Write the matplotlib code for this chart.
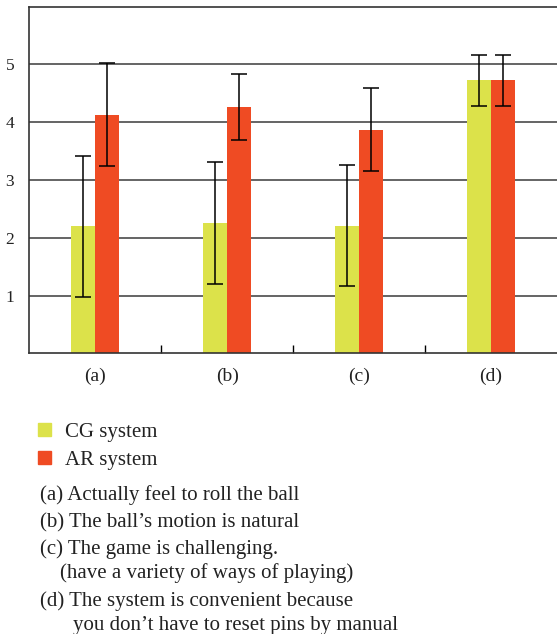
import matplotlib.pyplot as plt
import numpy as np

categories = ["(a)", "(b)", "(c)", "(d)"]
cg_mean = [2.20, 2.26, 2.21, 4.73]
cg_err = [1.22, 1.06, 1.05, 0.44]
ar_mean = [4.13, 4.26, 3.87, 4.73]
ar_err = [0.89, 0.57, 0.72, 0.44]
series_names = ["CG system", "AR system"]
notes = [
    "(a) Actually feel to roll the ball",
    "(b) The ball\u2019s motion is natural",
    "(c) The game is challenging.",
    "(have a variety of ways of playing)",
    "(d) The system is convenient because",
    "you don\u2019t have to reset pins by manual",
]

CG_COLOR = "#dce24a"
AR_COLOR = "#ef4b23"

plt.rcParams["font.family"] = ["Liberation Serif", "DejaVu Serif"]

fig = plt.figure(figsize=(5.57, 6.34), dpi=100)
ax = fig.add_axes([0.0527, 0.4427, 0.9473, 0.5467])

x = np.arange(len(categories))
w = 0.182
ax.bar(x - w / 2, cg_mean, w, color=CG_COLOR, zorder=2)
ax.bar(x + w / 2, ar_mean, w, color=AR_COLOR, zorder=2)
ax.errorbar(x - w / 2, cg_mean, yerr=cg_err, fmt="none", ecolor="black",
            elinewidth=1.1, capsize=6, capthick=1.1, zorder=3)
ax.errorbar(x + w / 2, ar_mean, yerr=ar_err, fmt="none", ecolor="black",
            elinewidth=1.1, capsize=6, capthick=1.1, zorder=3)

ax.set_xlim(-0.5, 3.5)
ax.set_ylim(0, 6)
ax.set_yticks([1, 2, 3, 4, 5])
ax.yaxis.grid(True, color="#3a3a3a", linewidth=1.1, zorder=1)
ax.set_axisbelow(True)
ax.tick_params(axis="y", length=0, labelsize=12.5, pad=11, colors="#222222")

ax.set_xticks(x)
ax.set_xticklabels(categories, fontsize=14, color="#222222")
ax.set_xticks([0.5, 1.5, 2.5], minor=True)
ax.tick_params(axis="x", which="major", length=0, pad=10)
ax.tick_params(axis="x", which="minor", direction="in", length=6, width=1.0)

for side in ["left", "top", "bottom"]:
    ax.spines[side].set_color("#333333")
    ax.spines[side].set_linewidth(1.2)
ax.spines["right"].set_visible(False)

# legend squares and labels
for i, (name, color) in enumerate(zip(series_names, [CG_COLOR, AR_COLOR])):
    y = 1 - (423 + i * 28) / 634
    fig.patches.append(plt.Rectangle((38 / 557, y - 13 / 634), 13 / 557, 13 / 634,
                                     transform=fig.transFigure, color=color))
    fig.text(65 / 557, 1 - (437 + i * 28) / 634, name, fontsize=15,
             va="baseline", color="#222222")

# item descriptions, continuation lines indented
note_y = [500, 527, 554, 578, 606, 630]
note_x = [40, 40, 40, 60, 40, 73]
for text, xx, yy in zip(notes, note_x, note_y):
    fig.text(xx / 557, 1 - yy / 634, text, fontsize=15, va="baseline",
             color="#222222")

fig.savefig("out.png", dpi=100)
